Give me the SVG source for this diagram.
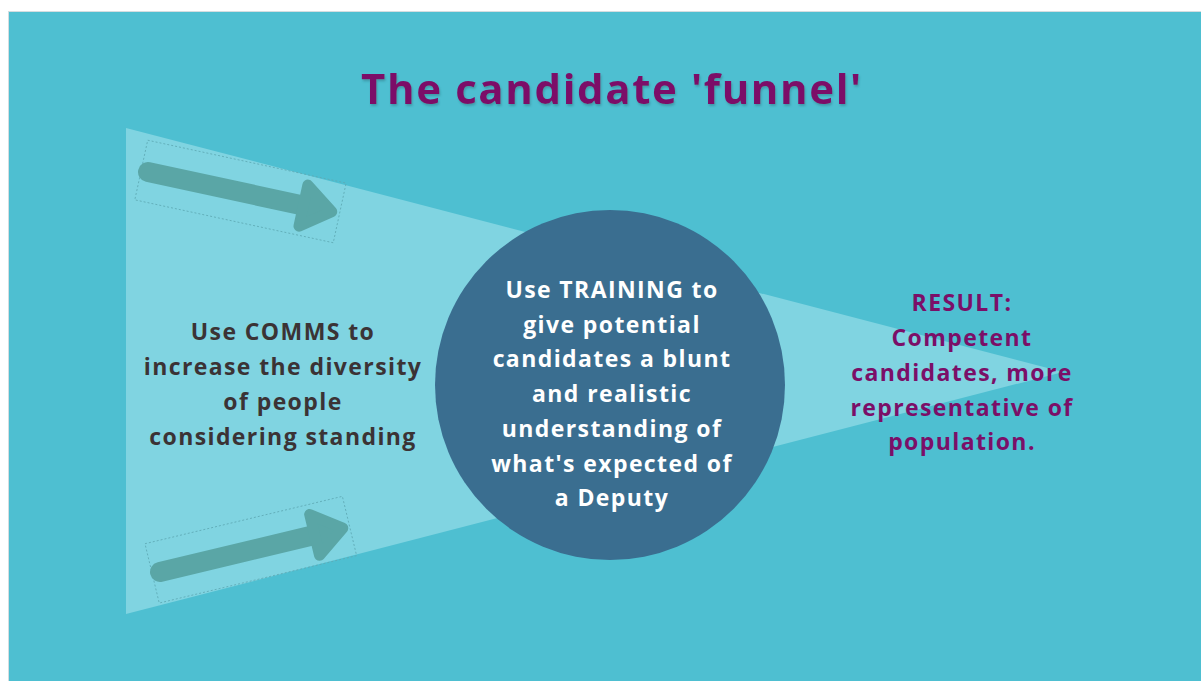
<svg xmlns="http://www.w3.org/2000/svg" width="1201" height="681" viewBox="0 0 1201 681">
  <style>
    .txt { font-family: "Open Sans", "Liberation Sans", sans-serif; font-weight: 700; text-anchor: middle; }
    .title { font-size: 42px; letter-spacing: 1.6px; fill: #7b0f68; }
    .body { font-size: 23px; letter-spacing: 1.4px; }
    .left { fill: #3b3335; }
    .mid { fill: #ffffff; }
    .right { fill: #7b0f68; }
    .arrow { fill: #5aa6a6; stroke: #5aa6a6; stroke-linejoin: round; }
    .selbox { fill: none; stroke: #5ea9b4; stroke-width: 0.8; stroke-dasharray: 2 2; }
  </style>
  <defs>
    <filter id="shadow" x="-5%" y="-20%" width="110%" height="150%">
      <feDropShadow dx="1" dy="2" stdDeviation="1.2" flood-color="#2a6e7a" flood-opacity="0.45"/>
    </filter>
    <!-- arrow shape in local coordinates: tail at origin, pointing along +x -->
    <g id="arrowShape">
      <line x1="0" y1="0" x2="162" y2="0" stroke="#5aa6a6" stroke-width="20" stroke-linecap="round"/>
      <polygon class="arrow" stroke-width="11" points="159,-21 188,0 159,21"/>
    </g>
  </defs>

  <!-- page -->
  <rect width="1201" height="681" fill="#ffffff"/>
  <rect x="8.5" y="11.5" width="1193" height="670" fill="#4ebfd1" stroke="#d4dde0" stroke-width="1"/>

  <!-- funnel -->
  <g id="funnel">
    <polygon points="126,128 1063,372 126,614" fill="#80d4e1"/>
  </g>

  <!-- arrows feeding into the funnel -->
  <g id="connectors">
    <g transform="translate(148,172) rotate(12.2)">
      <rect class="selbox" x="-7" y="-31" width="203" height="61"/>
      <use href="#arrowShape"/>
    </g>
    <g transform="translate(160,572) rotate(-13.5)">
      <rect class="selbox" x="-8" y="-31" width="203" height="61"/>
      <use href="#arrowShape"/>
    </g>
  </g>

  <!-- title -->
  <g id="title">
    <text class="txt title" x="612" y="104" filter="url(#shadow)">The candidate 'funnel'</text>
  </g>

  <!-- communications stage -->
  <g id="comms">
    <text class="txt body left" x="283" y="340">Use COMMS to</text>
    <text class="txt body left" x="283" y="375">increase the diversity</text>
    <text class="txt body left" x="283" y="410">of people</text>
    <text class="txt body left" x="283" y="445">considering standing</text>
  </g>

  <!-- training stage -->
  <g id="training">
    <circle cx="610" cy="385" r="175" fill="#3a6e90"/>
    <text class="txt body mid" x="612" y="298">Use TRAINING to</text>
    <text class="txt body mid" x="612" y="333">give potential</text>
    <text class="txt body mid" x="612" y="367">candidates a blunt</text>
    <text class="txt body mid" x="612" y="402">and realistic</text>
    <text class="txt body mid" x="612" y="437">understanding of</text>
    <text class="txt body mid" x="612" y="472">what's expected of</text>
    <text class="txt body mid" x="612" y="506">a Deputy</text>
  </g>

  <!-- outcome -->
  <g id="result">
    <text class="txt body right" x="962" y="311">RESULT:</text>
    <text class="txt body right" x="962" y="346">Competent</text>
    <text class="txt body right" x="962" y="381">candidates, more</text>
    <text class="txt body right" x="962" y="416">representative of</text>
    <text class="txt body right" x="962" y="450">population.</text>
  </g>
</svg>
